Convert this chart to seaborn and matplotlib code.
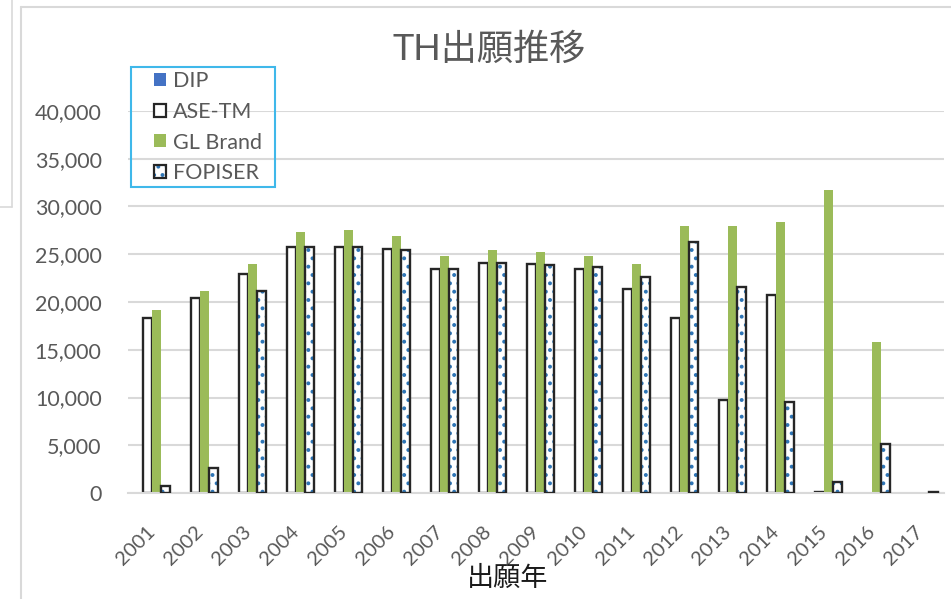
import matplotlib
matplotlib.use("Agg")
import matplotlib.pyplot as plt
from matplotlib.patches import Patch, Rectangle
from matplotlib.lines import Line2D
import pandas as pd
import seaborn as sns

years = ["2001", "2002", "2003", "2004", "2005", "2006", "2007", "2008", "2009",
         "2010", "2011", "2012", "2013", "2014", "2015", "2016", "2017"]
series_names = ["DIP", "ASE-TM", "GL Brand", "FOPISER"]
dip = [0, 0, 0, 0, 0, 0, 0, 0, 0, 0, 0, 0, 0, 0, 0, 0, 0]
ase_tm = [18300, 20400, 22900, 25800, 25800, 25600, 23500, 24100, 23950,
          23500, 21400, 18300, 9700, 20700, 150, 0, 0]
gl_brand = [19200, 21100, 24000, 27300, 27500, 26900, 24800, 25400, 25200,
            24800, 24000, 27950, 27950, 28400, 31700, 15800, 150]
fopiser = [700, 2600, 21200, 25800, 25800, 25400, 23500, 24100, 23900,
           23700, 22650, 26250, 21600, 9500, 1100, 5100, 150]
y_ticks = [0, 5000, 10000, 15000, 20000, 25000, 30000, 35000, 40000]

BLUE = "#4472C4"
GREEN = "#9BBB59"
DOT = "#2E75B6"
EDGE = "#262626"
GREY_TXT = "#595959"
GRID = "#D9D9D9"

sns.set_theme(style="white")
plt.rcParams["font.family"] = ["Lato", "Noto Sans CJK JP", "DejaVu Sans"]
plt.rcParams["hatch.linewidth"] = 1.6

df = pd.DataFrame({
    "year": years * 4,
    "series": [s for s in series_names for _ in years],
    "count": dip + ase_tm + gl_brand + fopiser,
})

W, H = 951, 599
fig = plt.figure(figsize=(W / 100, H / 100), dpi=100)
ax = fig.add_axes([128 / W, (H - 493) / H, 816 / W, 382 / H])

sns.barplot(data=df, x="year", y="count", hue="series", hue_order=series_names,
            palette=[BLUE, "white", GREEN, "white"], width=0.75, saturation=1,
            legend=False, ax=ax)

for name, cont in zip(series_names, ax.containers):
    for p in cont.patches:
        if p.get_height() == 0:
            p.set_visible(False)
            continue
        if name == "ASE-TM":
            p.set_facecolor("white")
            p.set_edgecolor(EDGE)
            p.set_linewidth(1.7)
        elif name == "GL Brand":
            p.set_linewidth(0)
        elif name == "FOPISER":
            p.set_facecolor("white")
            p.set_edgecolor(DOT)
            p.set_hatch("..")
            p.set_linewidth(0)
            ax.add_patch(Rectangle(p.get_xy(), p.get_width(), p.get_height(),
                                   fill=False, edgecolor=EDGE, linewidth=1.7, zorder=3))

ax.set_ylim(0, 40000)
ax.set_yticks(y_ticks)
ax.set_yticklabels([f"{v:,}" for v in y_ticks])
ax.yaxis.grid(True, color=GRID, linewidth=1.5)
ax.set_axisbelow(True)
for s in ["top", "right", "left"]:
    ax.spines[s].set_visible(False)
ax.spines["bottom"].set_color(GRID)
ax.spines["bottom"].set_linewidth(1.5)
ax.tick_params(axis="y", length=0, pad=19, labelsize=15.5, labelcolor=GREY_TXT)
ax.tick_params(axis="x", length=0, pad=26, labelsize=14.5, labelcolor=GREY_TXT)
for lab in ax.get_xticklabels():
    lab.set_rotation(45)
    lab.set_ha("right")
    lab.set_va("center")
    lab.set_rotation_mode("anchor")
ax.set_xlabel("")
ax.set_ylabel("")

fig.text(489 / W, 1 - 49 / H, "TH出願推移", ha="center", va="center",
         fontsize=26, color=GREY_TXT)
fig.text(508 / W, 1 - 578 / H, "出願年", ha="center", va="center",
         fontsize=19.5, color="#1a1a1a")

handles = [
    Patch(facecolor=BLUE, edgecolor="none"),
    Patch(facecolor="white", edgecolor=EDGE, linewidth=1.6),
    Patch(facecolor=GREEN, edgecolor="none"),
    (Patch(facecolor="white", edgecolor=DOT, hatch="..", linewidth=0),
     Patch(fill=False, edgecolor=EDGE, linewidth=1.6)),
]
leg = fig.legend(handles, series_names, loc="upper left",
                 bbox_to_anchor=(154 / W, 1 - 71 / H), borderaxespad=0,
                 fontsize=15.5, labelcolor=GREY_TXT, handlelength=0.56,
                 handleheight=0.56, handletextpad=0.33, labelspacing=0.5,
                 borderpad=0, frameon=False)
fig.add_artist(Rectangle((131 / W, 1 - 187 / H), (275 - 131) / W, (187 - 67) / H,
                         transform=fig.transFigure, fill=False,
                         edgecolor="#3FB8EA", linewidth=1.5))

# screenshot frame lines
fig.add_artist(Line2D([21 / W, 21 / W], [0, 1 - 7 / H], color="#D9D9D9", lw=1.5))
fig.add_artist(Line2D([21 / W, 1], [1 - 7 / H, 1 - 7 / H], color="#D9D9D9", lw=1.5))
fig.add_artist(Line2D([12 / W, 12 / W], [1, 1 - 207 / H], color="#D9D9D9", lw=1.2))
fig.add_artist(Line2D([0, 12 / W], [1 - 207 / H, 1 - 207 / H], color="#D9D9D9", lw=1.2))

fig.savefig("out.png", dpi=100)
